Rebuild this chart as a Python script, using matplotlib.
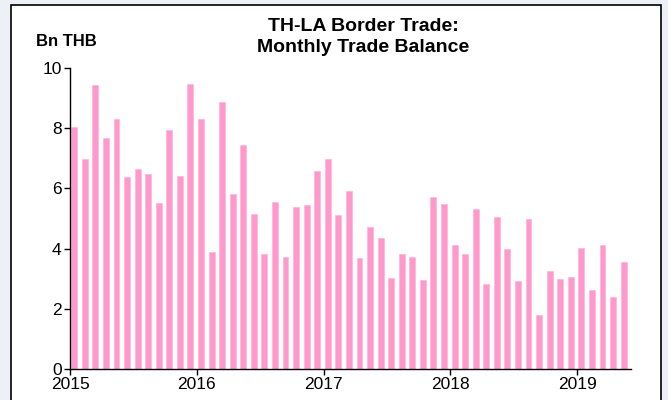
import matplotlib.pyplot as plt
from matplotlib.patches import Rectangle

plt.rcParams['font.family'] = ['Liberation Sans', 'DejaVu Sans']

# monthly trade balance, Jan 2015 - May 2019 (Bn THB)
balance_2015 = [8.03, 6.98, 9.42, 7.68, 8.32, 6.37, 6.66, 6.48, 5.51, 7.93, 6.40, 9.47]
balance_2016 = [8.32, 3.90, 8.86, 5.83, 7.43, 5.16, 3.81, 5.54, 3.73, 5.38, 5.44, 6.58]
balance_2017 = [6.98, 5.12, 5.90, 3.70, 4.73, 4.34, 3.02, 3.81, 3.73, 2.96, 5.73, 5.48]
balance_2018 = [4.13, 3.81, 5.30, 2.81, 5.06, 3.98, 2.92, 4.98, 1.81, 3.24, 2.99, 3.07]
balance_2019 = [4.02, 2.63, 4.13, 2.38, 3.57]
balance = balance_2015 + balance_2016 + balance_2017 + balance_2018 + balance_2019

years = ['2015', '2016', '2017', '2018', '2019']

fig = plt.figure(figsize=(6.68, 4.0), dpi=100, facecolor='#eef0f8')
# white framed panel behind everything
frame = Rectangle((11 / 668, -0.05), 650 / 668, 1.05 - 5 / 400,
                  transform=fig.transFigure, facecolor='white',
                  edgecolor='black', linewidth=1.2, zorder=-10)
fig.patches.append(frame)

ax = fig.add_axes([70 / 668, 1 - 369 / 400, 561 / 668, 301 / 400])
ax.set_zorder(5)
ax.set_facecolor('white')

x = [i + 0.4 for i in range(len(balance))]
ax.bar(x, balance, width=0.56, color='#ff99cc', edgecolor='#ffb3d9', linewidth=0.5)

ax.set_xlim(0, 53.1)
ax.set_ylim(0, 10)
ax.set_xticks(range(0, 49, 12))
ax.set_xticklabels(years)
ax.set_yticks(range(0, 11, 2))

ax.spines['top'].set_visible(False)
ax.spines['right'].set_visible(False)
ax.spines['left'].set_linewidth(1)
ax.spines['bottom'].set_linewidth(1)
ax.tick_params(direction='out', length=4, width=1, labelsize=12.5, pad=2)

fig.text(36 / 668, 1 - 42 / 400, 'Bn THB', fontsize=12, fontweight='bold',
         va='center', ha='left', zorder=6)
fig.text(363 / 668, 1 - 37 / 400, 'TH-LA Border Trade:\nMonthly Trade Balance',
         fontsize=14, fontweight='bold', ha='center', va='center',
         linespacing=1.35, zorder=6)

fig.savefig('out.png', dpi=100, facecolor=fig.get_facecolor())
